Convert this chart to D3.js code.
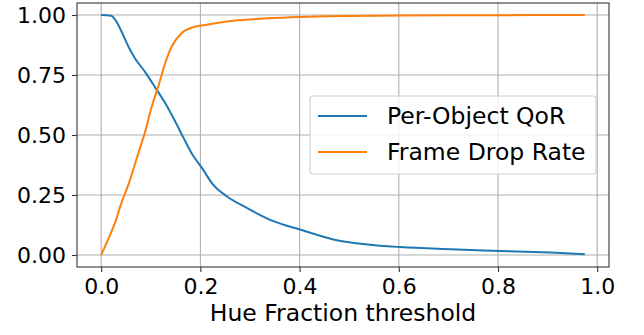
<!DOCTYPE html>
<html>
<head>
<meta charset="utf-8">
<script src="https://cdn.jsdelivr.net/npm/d3@7"></script>
<style>
  body { margin: 0; background: #fff; }
  svg text { font-family: "DejaVu Sans", sans-serif; fill: #000; }
</style>
</head>
<body>
<svg></svg>
<script>
// values
var qorX = [0, 0.02, 0.031, 0.041, 0.055, 0.068, 0.088, 0.112, 0.129, 0.149, 0.166, 0.182, 0.203, 0.226, 0.253, 0.293, 0.347, 0.401, 0.468, 0.536, 0.603, 0.704, 0.805, 0.906, 0.975];
var qorY = [1.0, 0.997, 0.972, 0.931, 0.868, 0.820, 0.764, 0.688, 0.633, 0.557, 0.488, 0.425, 0.363, 0.292, 0.245, 0.197, 0.141, 0.106, 0.065, 0.044, 0.033, 0.024, 0.017, 0.010, 0.003];
var dropX = [0, 0.014, 0.028, 0.041, 0.055, 0.075, 0.088, 0.102, 0.115, 0.129, 0.142, 0.162, 0.189, 0.209, 0.266, 0.334, 0.401, 0.502, 0.603, 0.75, 0.975];
var dropY = [0, 0.065, 0.135, 0.218, 0.294, 0.425, 0.509, 0.619, 0.702, 0.799, 0.868, 0.924, 0.951, 0.958, 0.976, 0.986, 0.992, 0.996, 0.998, 0.999, 1.0];
var seriesNames = ["Per-Object QoR", "Frame Drop Rate"];
var xTicks = [0, 0.2, 0.4, 0.6, 0.8, 1.0];
var yTicks = [0, 0.25, 0.5, 0.75, 1.0];

var width = 644, height = 335;
var plotL = 77, plotR = 609, plotT = 3, plotB = 267;
var colors = ["#1f77b4", "#ff7f0e"];

var svg = d3.select("svg").attr("width", width).attr("height", height);

var x = d3.scaleLinear().domain([-0.04875, 1.02375]).range([plotL, plotR]);
var y = d3.scaleLinear().domain([-0.05, 1.05]).range([plotB, plotT]);

// grid
svg.append("g").selectAll("line").data(xTicks).enter().append("line")
  .attr("x1", function(d) { return x(d); }).attr("x2", function(d) { return x(d); })
  .attr("y1", plotT).attr("y2", plotB)
  .attr("stroke", "#b0b0b0").attr("stroke-width", 1.1);
svg.append("g").selectAll("line").data(yTicks).enter().append("line")
  .attr("y1", function(d) { return y(d); }).attr("y2", function(d) { return y(d); })
  .attr("x1", plotL).attr("x2", plotR)
  .attr("stroke", "#b0b0b0").attr("stroke-width", 1.1);

// axes
var xAxis = d3.axisBottom(x).tickValues(xTicks).tickFormat(d3.format(".1f")).tickSize(5).tickPadding(6);
var yAxis = d3.axisLeft(y).tickValues(yTicks).tickFormat(d3.format(".2f")).tickSize(5).tickPadding(6);

var gx = svg.append("g").attr("transform", "translate(0," + plotB + ")").call(xAxis);
var gy = svg.append("g").attr("transform", "translate(" + plotL + ",0)").call(yAxis);
[gx, gy].forEach(function(g) {
  g.select(".domain").remove();
  g.selectAll(".tick line").attr("stroke", "#333").attr("stroke-width", 1.1);
  g.selectAll(".tick text").attr("font-size", "22px").attr("font-family", "DejaVu Sans");
});

// lines
var line = d3.line().curve(d3.curveMonotoneX);
var series = [
  d3.zip(qorX, qorY),
  d3.zip(dropX, dropY)
];
series.forEach(function(s, i) {
  svg.append("path")
    .attr("d", line(s.map(function(p) { return [x(p[0]), y(p[1])]; })))
    .attr("fill", "none")
    .attr("stroke", colors[i])
    .attr("stroke-width", 2);
});

// frame
svg.append("rect")
  .attr("x", plotL).attr("y", plotT)
  .attr("width", plotR - plotL).attr("height", plotB - plotT)
  .attr("fill", "none").attr("stroke", "#333").attr("stroke-width", 1.1);

// x label
svg.append("text")
  .attr("x", (plotL + plotR) / 2).attr("y", 321)
  .attr("text-anchor", "middle")
  .attr("font-size", "23.5px")
  .text("Hue Fraction threshold");

// legend
var legend = svg.append("g");
legend.append("rect")
  .attr("x", 310).attr("y", 96).attr("width", 286).attr("height", 78)
  .attr("rx", 3)
  .attr("fill", "#fff").attr("fill-opacity", 0.8)
  .attr("stroke", "#d0d0d0").attr("stroke-width", 1.1);
seriesNames.forEach(function(name, i) {
  var ly = 116 + i * 36;
  legend.append("line")
    .attr("x1", 318).attr("x2", 367).attr("y1", ly).attr("y2", ly)
    .attr("stroke", colors[i]).attr("stroke-width", 2);
  legend.append("text")
    .attr("x", 387).attr("y", ly + 8)
    .attr("font-size", "23.5px")
    .text(name);
});
</script>
</body>
</html>
